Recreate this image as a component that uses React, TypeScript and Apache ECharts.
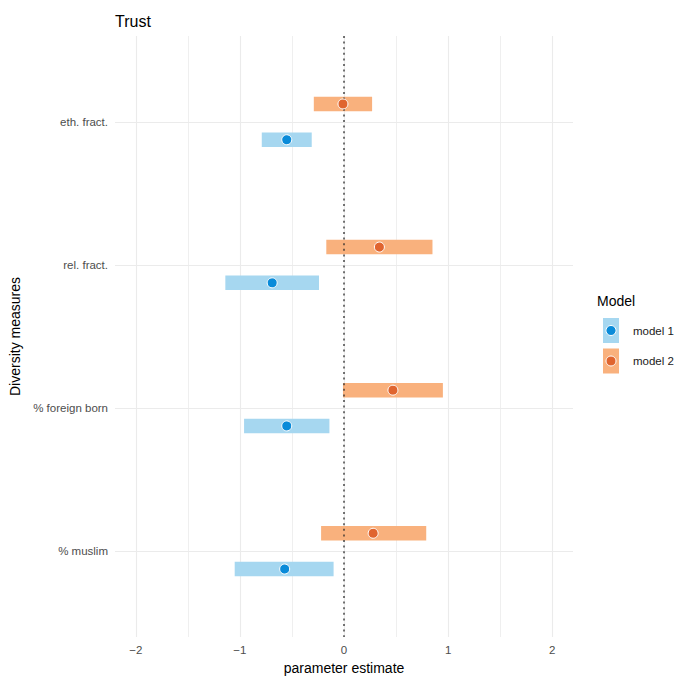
import React, { useEffect, useRef } from "react";
import * as echarts from "echarts";

// Diversity measures, top to bottom
const categories = ["eth. fract.", "rel. fract.", "% foreign born", "% muslim"];
const modelNames = ["model 1", "model 2"];

// Point estimates and interval bounds per model
const model1Est = [-0.55, -0.69, -0.55, -0.57];
const model1Lo = [-0.79, -1.14, -0.96, -1.05];
const model1Hi = [-0.31, -0.24, -0.14, -0.1];

const model2Est = [-0.01, 0.34, 0.47, 0.28];
const model2Lo = [-0.29, -0.17, -0.01, -0.22];
const model2Hi = [0.27, 0.85, 0.95, 0.79];

const xTicks = [-2, -1, 0, 1, 2];
const xMinorTicks = [-1.5, -0.5, 0.5, 1.5];
const referenceX = [0];

const Y_MIN = 0.4;
const Y_MAX = 4.6;

const BAR_FILL = ["#a6d7f0", "#f9b17d"];
const POINT_FILL = ["#0a8bd9", "#e0652f"];
const DODGE = 0.125;
const BAR_H = 14.5;

const fmtMinus = (v: number) => (v < 0 ? "\u2212" + Math.abs(v) : String(v));

export default function App() {
  const ref = useRef<HTMLDivElement>(null);

  useEffect(() => {
    if (!ref.current) return;
    const chart = echarts.init(ref.current, undefined, { renderer: "svg" });

    // y positions: category i sits at i+1; model 2 above, model 1 below
    const pos = (i: number, m: number) => i + 1 + (m === 0 ? DODGE : -DODGE);

    const intervals = [
      categories.map((_, i) => [model1Lo[i], model1Hi[i], pos(i, 0)]),
      categories.map((_, i) => [model2Lo[i], model2Hi[i], pos(i, 1)]),
    ];
    const points = [
      categories.map((_, i) => [model1Est[i], pos(i, 0)]),
      categories.map((_, i) => [model2Est[i], pos(i, 1)]),
    ];

    const barSeries = [0, 1].map((m) => ({
      type: "custom",
      name: modelNames[m] + " interval",
      z: 2,
      silent: true,
      encode: { x: [0, 1], y: 2 },
      data: intervals[m],
      renderItem: (_p: any, api: any) => {
        const a = api.coord([api.value(0), api.value(2)]);
        const b = api.coord([api.value(1), api.value(2)]);
        return {
          type: "rect",
          shape: { x: a[0], y: a[1] - BAR_H / 2, width: b[0] - a[0], height: BAR_H },
          style: { fill: BAR_FILL[m] },
        };
      },
    }));

    // dotted reference line at zero, drawn above the bars and below the points
    const zeroSeries = {
      type: "custom",
      name: "zero",
      z: 3,
      silent: true,
      encode: { x: 0 },
      data: referenceX.map((v) => [v]),
      renderItem: (_p: any, api: any) => {
        const top = api.coord([api.value(0), Y_MIN]);
        const bottom = api.coord([api.value(0), Y_MAX]);
        return {
          type: "line",
          shape: { x1: top[0], y1: top[1], x2: bottom[0], y2: bottom[1] },
          style: { stroke: "#2b2b2b", lineWidth: 1.3, lineDash: [2, 3.6] },
        };
      },
    };

    const pointSeries = [0, 1].map((m) => ({
      type: "scatter",
      name: modelNames[m],
      z: 4,
      silent: true,
      symbol: "circle",
      symbolSize: 10,
      itemStyle: { color: POINT_FILL[m], opacity: 1, borderColor: "#ffffff", borderWidth: 1 },
      data: points[m],
    }));

    const gridLineStyle = { color: "#ebebeb", width: 1.1, type: "solid" };
    const minorLineStyle = { color: "#ebebeb", width: 0.8, type: "solid" };

    const legendTop = 318;
    const legendGap = 30.5;
    const legendGraphics: any[] = [
      {
        type: "text",
        left: 597,
        top: 294,
        style: { text: "Model", fontSize: 14, fill: "#000", fontFamily: "Liberation Sans" },
      },
    ];
    modelNames.forEach((name, m) => {
      const y = legendTop + m * legendGap;
      legendGraphics.push(
        { type: "rect", shape: { x: 603, y, width: 16, height: 25 }, style: { fill: BAR_FILL[m] } },
        {
          type: "circle",
          shape: { cx: 611, cy: y + 12.5, r: 5 },
          style: { fill: POINT_FILL[m], stroke: "#ffffff", lineWidth: 1 },
        },
        {
          type: "text",
          x: 633,
          y: y + 12.5,
          style: {
            text: name,
            fontSize: 11.5,
            fill: "#1a1a1a",
            fontFamily: "Liberation Sans",
            verticalAlign: "middle",
          },
        }
      );
    });

    chart.setOption({
      animation: false,
      textStyle: { fontFamily: "Liberation Sans" },
      title: {
        text: "Trust",
        left: 110,
        top: 8,
        textStyle: { fontSize: 16, fontWeight: "normal", color: "#000" },
      },
      grid: { left: 115, right: 105, top: 36, bottom: 41, outerBoundsMode: "none", containLabel: false },
      xAxis: {
        type: "value",
        min: -2.2,
        max: 2.2,
        name: "parameter estimate",
        nameLocation: "middle",
        nameGap: 20,
        nameTextStyle: { fontSize: 14, color: "#000" },
        axisLine: { show: false },
        axisTick: { show: false },
        splitLine: { show: false },
        axisLabel: {
          customValues: xTicks,
          fontSize: 11.5,
          color: "#4d4d4d",
          margin: 7,
          formatter: (v: number) => (xTicks.includes(v) ? fmtMinus(v) : ""),
        },
      },
      yAxis: {
        type: "value",
        min: Y_MIN,
        max: Y_MAX,
        inverse: true,
        name: "Diversity measures",
        nameLocation: "middle",
        nameGap: 84,
        nameTextStyle: { fontSize: 14, color: "#000" },
        axisLine: { show: false },
        axisTick: { show: false },
        splitLine: { show: false },
        axisLabel: {
          customValues: categories.map((_, i) => i + 1),
          fontSize: 11.5,
          color: "#4d4d4d",
          margin: 7,
          formatter: (v: number) => {
            const i = Math.round(v) - 1;
            return Math.abs(v - (i + 1)) < 1e-6 && categories[i] ? categories[i] : "";
          },
        },
      },
      series: [
        {
          type: "line",
          name: "grid",
          z: 1,
          silent: true,
          data: [],
          markLine: {
            z: 1,
            silent: true,
            symbol: "none",
            label: { show: false },
            data: [
              ...xTicks.map((v) => ({ xAxis: v, lineStyle: gridLineStyle })),
              ...xMinorTicks.map((v) => ({ xAxis: v, lineStyle: minorLineStyle })),
              ...categories.map((_, i) => ({ yAxis: i + 1, lineStyle: gridLineStyle })),
            ],
          },
        },
        ...barSeries,
        zeroSeries,
        ...pointSeries,
      ],
      graphic: legendGraphics,
    });

    return () => chart.dispose();
  }, []);

  return (
    <div
      ref={ref}
      style={{ position: "fixed", left: 0, top: 0, width: 678, height: 678, background: "#fff" }}
    />
  );
}
